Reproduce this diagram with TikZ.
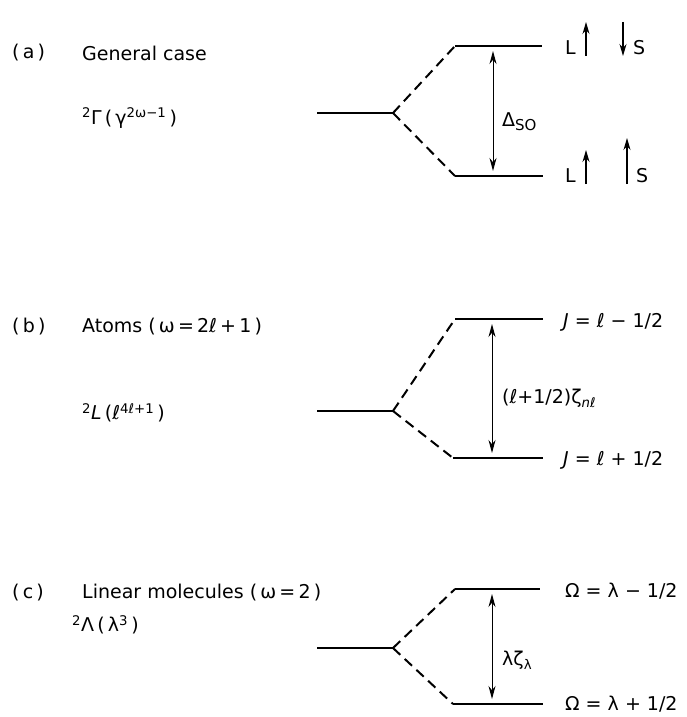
\documentclass[tikz,border=0pt]{standalone}
\usepackage{fontspec}
\setmainfont{DejaVu Sans}
\usetikzlibrary{arrows.meta}

\begin{document}
\begin{tikzpicture}[
  x=1pt, y=-1pt,
  font=\fontsize{19}{22}\selectfont,
  lvl/.style={line width=2.8pt},
  split/.style={line width=2pt, dash pattern=on 10pt off 6pt},
  gap/.style={{Stealth[length=13pt,width=7pt]}-{Stealth[length=13pt,width=7pt]}, line width=1pt},
  spin/.style={-{Stealth[length=12pt,width=7pt]}, line width=1.2pt},
  lab/.style={anchor=west, inner sep=0pt}
]
\useasboundingbox (0,0) rectangle (687,717);

% (a) general case
\node[lab] (atag) at (12,53) {(\,a\,)};
\node[lab] (atitle) at (82,53) {General case};
\node[lab] (aterm) at (82,118) {\textsuperscript{2}Γ\,(\,γ\textsuperscript{2ω−1}\,)};

\coordinate (a0w) at (317,113); \coordinate (a0e) at (393,113);
\coordinate (a1w) at (455,46);  \coordinate (a1e) at (542,46);
\coordinate (a2w) at (455,176); \coordinate (a2e) at (543,176);
\draw[lvl] (a0w) -- (a0e);
\draw[lvl] (a1w) -- (a1e);
\draw[lvl] (a2w) -- (a2e);
\draw[split] (a0e) -- (a1w);
\draw[split] (a0e) -- (a2w);

\coordinate (a1g) at (493,51); \coordinate (a2g) at (493,171);
\draw[gap] (a1g) -- (a2g);
\node[lab] (aso) at (502,122) {Δ{\fontsize{15}{18}\selectfont\raisebox{-4pt}{SO}}};

\node[lab] (aL1) at (565,48) {L};
\node[lab] (aS1) at (633,48) {S};
\node[lab] (aL2) at (565,176) {L};
\node[lab] (aS2) at (636,176) {S};
\coordinate (aL1a) at (586,56); \coordinate (aL1b) at (586,22);
\coordinate (aS1a) at (623,22); \coordinate (aS1b) at (623,56);
\coordinate (aL2a) at (586,184); \coordinate (aL2b) at (586,150);
\coordinate (aS2a) at (627,184); \coordinate (aS2b) at (627,138);
\foreach \a/\b in {aL1a/aL1b, aS1a/aS1b, aL2a/aL2b, aS2a/aS2b}
  \draw[spin] (\a) -- (\b);

% (b) atoms
\node[lab] (btag) at (12,327) {(\,b\,)};
\node[lab] (btitle) at (82,327) {Atoms (\,ω\,=\,2ℓ\,+\,1\,)};
\node[lab] (bterm) at (82,413) {\textsuperscript{2}\textit{L}\,(ℓ\textsuperscript{4ℓ+1}\,)};

\coordinate (b0w) at (317,411); \coordinate (b0e) at (393,411);
\coordinate (b1w) at (455,319); \coordinate (b1e) at (543,319);
\coordinate (b2w) at (453,458); \coordinate (b2e) at (543,458);
\draw[lvl] (b0w) -- (b0e);
\draw[lvl] (b1w) -- (b1e);
\draw[lvl] (b2w) -- (b2e);
\draw[split] (b0e) -- (b1w);
\draw[split] (b0e) -- (b2w);

\coordinate (b1g) at (492,324); \coordinate (b2g) at (492,453);
\draw[gap] (b1g) -- (b2g);
\node[lab] (bzeta) at (502,398) {(ℓ+1/2)ζ\textsubscript{\textit{n}ℓ}};

\node[lab] (bJ1) at (563,322) {\textit{J} = ℓ − 1/2};
\node[lab] (bJ2) at (563,460) {\textit{J} = ℓ + 1/2};

% (c) linear molecules
\node[lab] (ctag) at (12,593) {(\,c\,)};
\node[lab] (ctitle) at (82,593) {Linear molecules (\,ω\,=\,2\,)};
\node[lab] (cterm) at (72,625) {\textsuperscript{2}Λ\,(\,λ\textsuperscript{3}\,)};

\coordinate (c0w) at (317,648); \coordinate (c0e) at (393,648);
\coordinate (c1w) at (455,589); \coordinate (c1e) at (540,589);
\coordinate (c2w) at (453,704); \coordinate (c2e) at (543,704);
\draw[lvl] (c0w) -- (c0e);
\draw[lvl] (c1w) -- (c1e);
\draw[lvl] (c2w) -- (c2e);
\draw[split] (c0e) -- (c1w);
\draw[split] (c0e) -- (c2w);

\coordinate (c1g) at (492,594); \coordinate (c2g) at (492,699);
\draw[gap] (c1g) -- (c2g);
\node[lab] (czeta) at (502,660) {λζ\textsubscript{λ}};

\node[lab] (cO1) at (565,591) {Ω = λ − 1/2};
\node[lab] (cO2) at (565,704) {Ω = λ + 1/2};

\end{tikzpicture}
\end{document}
